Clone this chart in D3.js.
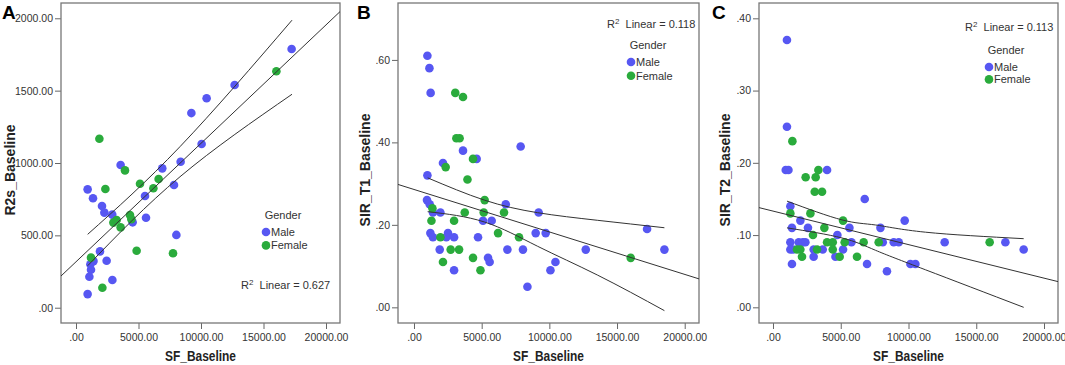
<!doctype html>
<html lang="en">
<head>
<meta charset="utf-8">
<title>SF_Baseline scatter plots</title>
<style>
  body { margin: 0; background: #fff; }
  svg { display: block; font-family: "Liberation Sans", Arial, sans-serif; }
  .tick text { font-size: 10.5px; fill: #333; }
  .tick line { stroke: #666; }
  .frame { fill: none; stroke: #777; stroke-width: 1.3; }
  .fit { fill: none; stroke: #333; stroke-width: 1; }
  .axis-title { font-size: 14px; font-weight: bold; fill: #222; }
  .panel-label { font-size: 19px; font-weight: bold; fill: #000; }
  .legend text { font-size: 11px; fill: #333; }
</style>
</head>
<body>
<div id="chart"></div>
<script src="https://cdnjs.cloudflare.com/ajax/libs/d3/7.8.5/d3.min.js"></script>
<script>
// ---- data: [SF_Baseline, value] ----
const maleA = [[17250,1788],[12690,1539],[10450,1447],[9230,1345],[10050,1131],[8370,1009],[6900,963],[7840,848],
  [5520,772],[5600,622],[4530,590],[3570,986],[8030,503],[930,818],[1360,756],[2080,703],[2270,657],[2900,643],
  [1920,389],[2450,325],[1150,300],[1400,322],[1200,262],[1070,214],[2910,191],[930,94]];
const femaleA = [[16030,1634],[1870,1168],[3920,949],[5120,857],[6610,889],[6190,825],[2350,820],[4320,640],
  [4430,611],[2990,588],[3250,606],[3570,555],[4850,394],[7760,376],[1200,346],[2110,138]];

const maleB = [[990,0.61],[1140,0.58],[1230,0.52],[990,0.32],[2140,0.35],[3620,0.38],[4630,0.36],[7880,0.39],
  [960,0.26],[1160,0.25],[1400,0.23],[1950,0.23],[6780,0.25],[9210,0.23],[5100,0.21],[5740,0.21],
  [1210,0.18],[1400,0.17],[2510,0.18],[2390,0.17],[2960,0.17],[4730,0.17],[8990,0.18],[9730,0.18],
  [1900,0.14],[6900,0.14],[8050,0.14],[5470,0.12],[5590,0.11],[2960,0.09],[10080,0.09],[10450,0.11],[8380,0.05],
  [12690,0.14],[17220,0.19],[18500,0.14]];
const femaleB = [[3050,0.52],[3620,0.51],[3130,0.41],[3370,0.41],[4360,0.36],[2340,0.34],[3950,0.31],
  [5220,0.26],[1360,0.24],[3750,0.23],[5150,0.23],[6650,0.23],[1290,0.21],[2960,0.21],
  [6210,0.18],[7760,0.17],[1950,0.17],[2710,0.14],[3330,0.14],[4360,0.12],[2140,0.11],[4910,0.09],[16010,0.12]];

const maleC = [[1030,0.37],[1030,0.25],[940,0.19],[1140,0.19],[3990,0.19],
  [1280,0.14],[6770,0.15],[2020,0.12],[1400,0.11],[2580,0.11],[5640,0.11],[7930,0.11],[9720,0.12],[4750,0.10],
  [1280,0.09],[1900,0.09],[2210,0.09],[2390,0.09],[5790,0.09],[8100,0.09],[8910,0.09],[9280,0.09],[12670,0.09],[17150,0.09],
  [1280,0.08],[1480,0.08],[3000,0.08],[3670,0.08],[5170,0.08],[18500,0.08],
  [3000,0.07],[4610,0.07],[1400,0.06],[6940,0.06],[10140,0.06],[10510,0.06],[8410,0.05]];
const femaleC = [[3080,0.16],[3620,0.16],[1430,0.23],[2410,0.18],[3150,0.18],[3350,0.19],
  [1280,0.13],[2760,0.13],[5170,0.12],[3790,0.11],[2950,0.10],[3990,0.09],[4410,0.09],[5290,0.09],[6690,0.09],[7800,0.09],[15990,0.09],
  [1770,0.08],[2020,0.08],[3250,0.08],[4410,0.08],[2140,0.07],[4920,0.07],[6200,0.07]];

// fit line and 95% mean confidence band
const fitA = [[-1200,219],[21120,2046]];
const upperA = [[933,507],[8320,1113],[17280,1987]];
const lowerA = [[933,290],[8320,905],[17280,1475]];
const fitB = [[-1182,0.298],[21056,0.069]];
const upperB = [[1010,0.314],[5200,0.260],[9135,0.2295],[13570,0.211],[18500,0.193]];
const lowerB = [[1010,0.232],[5200,0.207],[9135,0.148],[13570,0.078],[18500,-0.008]];
const fitC = [[-1033,0.138],[21033,0.0356]];
const upperC = [[1033,0.147],[5092,0.121],[7557,0.114],[11247,0.104],[18500,0.095]];
const lowerC = [[1033,0.110],[5092,0.096],[7557,0.079],[11247,0.052],[18500,0.0]];

const xTicks = [0, 5000, 10000, 15000, 20000];
const yTicksA = [0, 500, 1000, 1500, 2000];
const yTicksB = [0, 0.2, 0.4, 0.6];
const yTicksC = [0, 0.1, 0.2, 0.3, 0.4];
const r2Labels = ["0.627", "0.118", "0.113"];
const yTitles = ["R2s_Baseline", "SIR_T1_Baseline", "SIR_T2_Baseline"];
const panelNames = ["A", "B", "C"];
const genders = ["Male", "Female"];

const colors = { Male: "#5757f2", Female: "#2aab3c" };
const W = 1065, H = 365;

const svg = d3.select("#chart").append("svg")
  .attr("width", W).attr("height", H);

const fmt = d => d3.format(".2f")(d).replace(/^0\./, ".");

function drawPanel(p) {
  const x = d3.scaleLinear().domain(p.xDomain).range([p.left, p.right]);
  const y = d3.scaleLinear().domain(p.yDomain).range([p.bottom, p.top]);
  const g = svg.append("g");

  g.append("g")
    .attr("transform", `translate(0,${p.bottom})`)
    .call(d3.axisBottom(x).tickValues(xTicks).tickSize(6).tickPadding(5).tickFormat(fmt))
    .call(a => a.select(".domain").remove());

  g.append("g")
    .attr("transform", `translate(${p.left},0)`)
    .call(d3.axisLeft(y).tickValues(p.yTicks).tickSize(6).tickPadding(2).tickFormat(fmt))
    .call(a => a.select(".domain").remove());

  g.append("rect").attr("class", "frame")
    .attr("x", p.left).attr("y", p.top)
    .attr("width", p.right - p.left).attr("height", p.bottom - p.top);

  const line = d3.line().x(d => x(d[0])).y(d => y(d[1]));
  const curve = d3.line().x(d => x(d[0])).y(d => y(d[1])).curve(d3.curveNatural);

  // points (male first, female on top)
  [["Male", p.male], ["Female", p.female]].forEach(([k, pts]) => {
    g.selectAll(null).data(pts).enter().append("circle")
      .attr("cx", d => x(d[0])).attr("cy", d => y(d[1]))
      .attr("r", 4.3).attr("fill", colors[k]);
  });

  g.append("path").attr("class", "fit").attr("d", line(p.fit));
  g.append("path").attr("class", "fit").attr("d", curve(p.upper));
  g.append("path").attr("class", "fit").attr("d", curve(p.lower));

  // axis titles
  g.append("text").attr("class", "axis-title")
    .attr("x", (p.left + p.right) / 2).attr("y", 361)
    .attr("text-anchor", "middle")
    .attr("textLength", 71).attr("lengthAdjust", "spacingAndGlyphs")
    .text("SF_Baseline");
  g.append("text").attr("class", "axis-title")
    .attr("transform", `translate(${p.yTitleX},170) rotate(-90)`)
    .attr("text-anchor", "middle")
    .text(p.yTitle);

  g.append("text").attr("class", "panel-label")
    .attr("x", p.labelX).attr("y", 19).text(p.name);

  // R2 label
  const r2 = g.append("text")
    .attr("x", p.r2[0]).attr("y", p.r2[1])
    .style("font-size", "11px").style("fill", "#333");
  r2.append("tspan").text("R");
  r2.append("tspan").attr("dy", -4).style("font-size", "8px").text("2");
  r2.append("tspan").attr("dy", 4).text("\u00a0 Linear = " + p.r2Text);

  // legend
  const lg = g.append("g").attr("class", "legend");
  lg.append("text").attr("x", p.leg[0] + 17).attr("y", p.leg[1])
    .attr("text-anchor", "middle").text("Gender");
  genders.forEach((k, i) => {
    const cy = p.leg[1] + 13 + i * p.legStep;
    lg.append("circle").attr("cx", p.leg[0]).attr("cy", cy).attr("r", 4.3).attr("fill", colors[k]);
    lg.append("text").attr("x", p.leg[0] + 5).attr("y", cy + 4).text(k);
  });
}

drawPanel({ name: panelNames[0], labelX: 2, left: 61, right: 340, top: 3, bottom: 323,
  xDomain: [-1200, 21120], yDomain: [-105.7, 2105.7], yTicks: yTicksA,
  male: maleA, female: femaleA, fit: fitA, upper: upperA, lower: lowerA,
  yTitle: yTitles[0], yTitleX: 15, r2: [241, 289], r2Text: r2Labels[0],
  leg: [266, 219], legStep: 13.4 });

drawPanel({ name: panelNames[1], labelX: 357, left: 398, right: 699, top: 3, bottom: 323,
  xDomain: [-1182, 21056], yDomain: [-0.038, 0.738], yTicks: yTicksB,
  male: maleB, female: femaleB, fit: fitB, upper: upperB, lower: lowerB,
  yTitle: yTitles[1], yTitleX: 370, r2: [607, 28], r2Text: r2Labels[1],
  leg: [631, 49], legStep: 13.7 });

drawPanel({ name: panelNames[2], labelX: 712, left: 759, right: 1058, top: 3, bottom: 323,
  xDomain: [-1033, 21033], yDomain: [-0.0217, 0.4212], yTicks: yTicksC,
  male: maleC, female: femaleC, fit: fitC, upper: upperC, lower: lowerC,
  yTitle: yTitles[2], yTitleX: 730, r2: [965, 31], r2Text: r2Labels[2],
  leg: [989, 54], legStep: 12.4 });
</script>
</body>
</html>
